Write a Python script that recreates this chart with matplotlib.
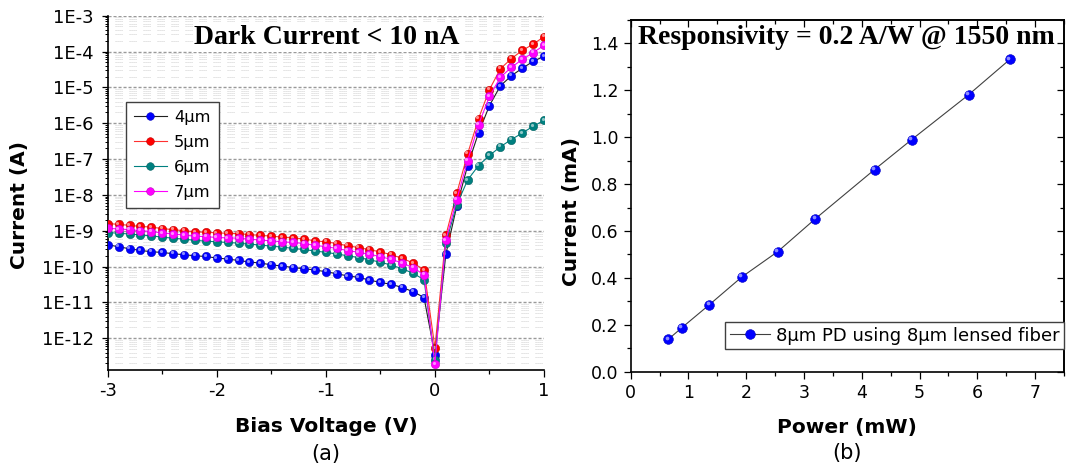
import numpy as np
import matplotlib
matplotlib.use("Agg")
import matplotlib.pyplot as plt
from matplotlib.lines import Line2D
from matplotlib.ticker import FixedLocator, LogLocator, MultipleLocator, FuncFormatter, NullFormatter
from matplotlib.transforms import ScaledTranslation
from matplotlib.colors import to_rgb

plt.rcParams["font.family"] = ["DejaVu Sans"]
plt.rcParams["lines.scale_dashes"] = False

# ---------------- (a) dark current vs bias ----------------
bias_v = [-3.0, -2.9, -2.8, -2.7, -2.6, -2.5, -2.4, -2.3, -2.2, -2.1,
          -2.0, -1.9, -1.8, -1.7, -1.6, -1.5, -1.4, -1.3, -1.2, -1.1,
          -1.0, -0.9, -0.8, -0.7, -0.6, -0.5, -0.4, -0.3, -0.2, -0.1,
          0.0, 0.1, 0.2, 0.3, 0.4, 0.5, 0.6, 0.7, 0.8, 0.9, 1.0]

i_4um = [4.06e-10, 3.57e-10, 3.14e-10, 2.82e-10, 2.59e-10, 2.48e-10, 2.28e-10, 2.14e-10, 2.00e-10, 1.91e-10,
         1.73e-10, 1.62e-10, 1.48e-10, 1.34e-10, 1.25e-10, 1.12e-10, 1.03e-10, 9.4e-11, 8.7e-11, 8.0e-11,
         7.2e-11, 6.3e-11, 5.5e-11, 5.0e-11, 4.2e-11, 3.6e-11, 3.2e-11, 2.6e-11, 2.0e-11, 1.37e-11,
         3.5e-13, 2.2e-10, 4.8e-9, 6.6e-8, 5.4e-7, 3.1e-6, 1.1e-5, 2.1e-5, 3.4e-5, 5.3e-5, 7.4e-5]

i_5um = [1.58e-9, 1.51e-9, 1.41e-9, 1.32e-9, 1.26e-9, 1.15e-9, 1.07e-9, 1.00e-9, 9.3e-10, 9.1e-10,
         8.7e-10, 8.5e-10, 8.3e-10, 7.8e-10, 7.4e-10, 7.1e-10, 6.6e-10, 6.3e-10, 5.9e-10, 5.2e-10,
         4.9e-10, 4.4e-10, 3.8e-10, 3.4e-10, 2.95e-10, 2.57e-10, 2.14e-10, 1.70e-10, 1.26e-10, 8.1e-11,
         5.4e-13, 7.4e-10, 1.1e-8, 1.4e-7, 1.35e-6, 8.7e-6, 3.3e-5, 6.3e-5, 1.07e-4, 1.6e-4, 2.6e-4]

i_6um = [8.9e-10, 8.5e-10, 8.1e-10, 7.6e-10, 7.2e-10, 6.6e-10, 6.2e-10, 5.8e-10, 5.4e-10, 5.1e-10,
         4.9e-10, 4.7e-10, 4.5e-10, 4.2e-10, 4.0e-10, 3.7e-10, 3.5e-10, 3.2e-10, 3.0e-10, 2.7e-10,
         2.5e-10, 2.24e-10, 2.0e-10, 1.78e-10, 1.55e-10, 1.32e-10, 1.10e-10, 8.7e-11, 6.5e-11, 4.3e-11,
         2.5e-13, 4.5e-10, 5.3e-9, 2.6e-8, 6.6e-8, 1.26e-7, 2.2e-7, 3.5e-7, 5.3e-7, 8.2e-7, 1.2e-6]

i_7um = [1.17e-9, 1.12e-9, 1.07e-9, 1.00e-9, 9.5e-10, 8.7e-10, 8.1e-10, 7.6e-10, 7.1e-10, 6.8e-10,
         6.5e-10, 6.3e-10, 6.2e-10, 5.8e-10, 5.5e-10, 5.2e-10, 4.9e-10, 4.7e-10, 4.4e-10, 3.9e-10,
         3.6e-10, 3.2e-10, 2.8e-10, 2.5e-10, 2.2e-10, 1.9e-10, 1.58e-10, 1.26e-10, 9.3e-11, 5.9e-11,
         1.9e-13, 5.4e-10, 7.4e-9, 9.1e-8, 9.1e-7, 5.6e-6, 1.9e-5, 3.6e-5, 6.0e-5, 9.3e-5, 1.48e-4]

device_labels = ["4\u03bcm", "5\u03bcm", "6\u03bcm", "7\u03bcm"]
device_currents = [i_4um, i_5um, i_6um, i_7um]
marker_colors = ["#0000ff", "#ff0000", "#008080", "#ff00ff"]
line_colors = ["#202020", "#ff3030", "#008080", "#ff00ff"]

decade_ticks = [1e-12, 1e-11, 1e-10, 1e-9, 1e-8, 1e-7, 1e-6, 1e-5, 1e-4, 1e-3]

# ---------------- (b) photocurrent vs optical power ----------------
power_mw = [0.65, 0.887, 1.358, 1.923, 2.544, 3.195, 4.22, 4.864, 5.848, 6.563]
photo_ma = [0.138, 0.188, 0.285, 0.404, 0.512, 0.652, 0.862, 0.990, 1.181, 1.332]

W, H = 1067, 471
fig = plt.figure(figsize=(W / 100, H / 100), dpi=100)


def px_axes(x0, y0, x1, y1):
    return fig.add_axes([x0 / W, 1 - y1 / H, (x1 - x0) / W, (y1 - y0) / H])


def lighten(c, f):
    r, g, b = to_rgb(c)
    return (r + (1 - r) * f, g + (1 - g) * f, b + (1 - b) * f)


def darken(c, f):
    r, g, b = to_rgb(c)
    return (r * f, g * f, b * f)


def balls(ax, x, y, color, size, z):
    """Shaded round markers: a filled disc plus a small glint toward the upper left."""
    ax.plot(x, y, ls="none", marker="o", ms=size, mfc=color,
            mec=darken(color, 0.75), mew=0.4, zorder=z)
    off = ScaledTranslation(-size * 0.16 / 72, size * 0.16 / 72, fig.dpi_scale_trans)
    ax.plot(x, y, ls="none", marker="o", ms=size * 0.38, mfc=lighten(color, 0.55),
            mec="none", transform=ax.transData + off, zorder=z + 0.1)


# ======== panel (a) ========
ax1 = px_axes(107.7, 15.7, 544.0, 370.0)
ax1.set_yscale("log")
ax1.set_xlim(-3, 1)
ax1.set_ylim(1.3e-13, 1e-3)

for k, (cur, mc, lc) in enumerate(zip(device_currents, marker_colors, line_colors)):
    ax1.plot(bias_v, cur, color=lc, lw=0.8, zorder=3 + k)
    balls(ax1, bias_v, cur, mc, 6.0, 3.5 + k)

ax1.yaxis.set_major_locator(FixedLocator(decade_ticks))
ax1.yaxis.set_major_formatter(FuncFormatter(lambda v, p: "1E%d" % int(round(np.log10(v)))))
ax1.yaxis.set_minor_locator(LogLocator(base=10, subs=np.arange(2, 10), numticks=40))
ax1.yaxis.set_minor_formatter(NullFormatter())
ax1.xaxis.set_major_locator(MultipleLocator(1))
ax1.xaxis.set_minor_locator(MultipleLocator(0.5))
ax1.xaxis.set_major_formatter(FuncFormatter(lambda v, p: "%d" % round(v)))

ax1.grid(True, which="major", axis="y", color="#9a9a9a", lw=1.0, ls=(0, (2.2, 1.4)))
ax1.grid(True, which="minor", axis="y", color="#d2d2d2", lw=0.72,
         ls=(5.0, (0.72, 0.72, 0.72, 0.72, 0.72, 0.72, 0.72, 5.04)))
ax1.set_axisbelow(True)

for s in ("top", "right"):
    ax1.spines[s].set_visible(False)
for s in ("left", "bottom"):
    ax1.spines[s].set_linewidth(1.2)

ax1.tick_params(axis="y", which="major", direction="out", length=4, width=0.9,
                labelsize=13, pad=6)
ax1.tick_params(axis="y", which="minor", direction="out", length=2, width=0.7)
ax1.tick_params(axis="x", which="major", direction="out", length=5, width=0.9,
                labelsize=13, pad=4)
ax1.tick_params(axis="x", which="minor", direction="out", length=3, width=0.9)

handles1 = [Line2D([], [], color=lc, lw=0.8, marker="o", ms=5.5, mfc=mc,
                   mec=darken(mc, 0.75), mew=0.4)
            for mc, lc in zip(marker_colors, line_colors)]
leg1 = ax1.legend(handles1, device_labels, loc="upper left",
                  bbox_to_anchor=(0.042, 0.757), borderaxespad=0, fontsize=11.7,
                  frameon=True, fancybox=False, edgecolor="#404040", framealpha=1,
                  handlelength=2.0, handletextpad=0.45, labelspacing=0.61,
                  borderpad=0.5)
leg1.get_frame().set_linewidth(1.0)
leg1.set_zorder(20)

fig.text(327 / W, 1 - 38 / H, "Dark Current < 10 nA", family="Liberation Serif",
         weight="bold", fontsize=20, ha="center", va="center",
         bbox=dict(facecolor="white", edgecolor="none", pad=1.0))

fig.text(20 / W, 1 - 205 / H, "Current (A)", rotation=90, fontsize=14.5,
         weight="bold", ha="center", va="center")
fig.text(326 / W, 1 - 427 / H, "Bias Voltage (V)", fontsize=14.5, weight="bold",
         ha="center", va="center")
fig.text(326 / W, 1 - 454 / H, "(a)", fontsize=15, ha="center", va="center")

# ======== panel (b) ========
ax2 = px_axes(630.7, 20.0, 1064.0, 371.7)
ax2.set_xlim(0, 7.5)
ax2.set_ylim(0, 1.5)

ax2.plot(power_mw, photo_ma, color="#404040", lw=0.8, zorder=3)
balls(ax2, power_mw, photo_ma, "#0000ff", 7.0, 4)

ax2.xaxis.set_major_locator(MultipleLocator(1))
ax2.xaxis.set_minor_locator(MultipleLocator(0.5))
ax2.yaxis.set_major_locator(MultipleLocator(0.2))
ax2.yaxis.set_minor_locator(MultipleLocator(0.1))
ax2.yaxis.set_major_formatter(FuncFormatter(lambda v, p: "%.1f" % v))
for s in ax2.spines.values():
    s.set_linewidth(1.2)
ax2.tick_params(which="major", direction="out", length=5, width=0.9, labelsize=12.5, pad=4)
ax2.tick_params(which="minor", direction="out", length=3, width=0.9)

sec_x = ax2.secondary_xaxis("top")
sec_x.xaxis.set_major_locator(MultipleLocator(1))
sec_x.xaxis.set_minor_locator(MultipleLocator(0.5))
sec_x.tick_params(which="major", direction="in", length=5, width=0.9, labeltop=False)
sec_x.tick_params(which="minor", direction="in", length=3, width=0.9)
sec_x.spines["top"].set_linewidth(1.2)

sec_y = ax2.secondary_yaxis("right")
sec_y.yaxis.set_major_locator(MultipleLocator(0.2))
sec_y.yaxis.set_minor_locator(MultipleLocator(0.1))
sec_y.tick_params(which="major", direction="in", length=5, width=0.9, labelright=False)
sec_y.tick_params(which="minor", direction="in", length=3, width=0.9)
sec_y.spines["right"].set_linewidth(1.2)

h2 = Line2D([], [], color="#404040", lw=0.8, marker="o", ms=7.0, mfc="#0000ff",
            mec=darken("#0000ff", 0.75), mew=0.4)
leg2 = ax2.legend([h2], ["8\u03bcm PD using 8\u03bcm lensed fiber"], loc="lower right",
                  bbox_to_anchor=(1.0, 0.0645), borderaxespad=0, fontsize=13,
                  frameon=True, fancybox=False, edgecolor="#404040", framealpha=1,
                  handlelength=2.2, handletextpad=0.35, borderpad=0.25)
leg2.get_frame().set_linewidth(1.0)

fig.text(846 / W, 1 - 38 / H, "Responsivity = 0.2 A/W @ 1550 nm", family="Liberation Serif",
         weight="bold", fontsize=20, ha="center", va="center")

fig.text(571 / W, 1 - 211 / H, "Current (mA)", rotation=90, fontsize=14.5,
         weight="bold", ha="center", va="center")
fig.text(847 / W, 1 - 428 / H, "Power (mW)", fontsize=14.5, weight="bold",
         ha="center", va="center")
fig.text(847 / W, 1 - 453 / H, "(b)", fontsize=15, ha="center", va="center")

fig.savefig("out.png", dpi=100, facecolor="white")
